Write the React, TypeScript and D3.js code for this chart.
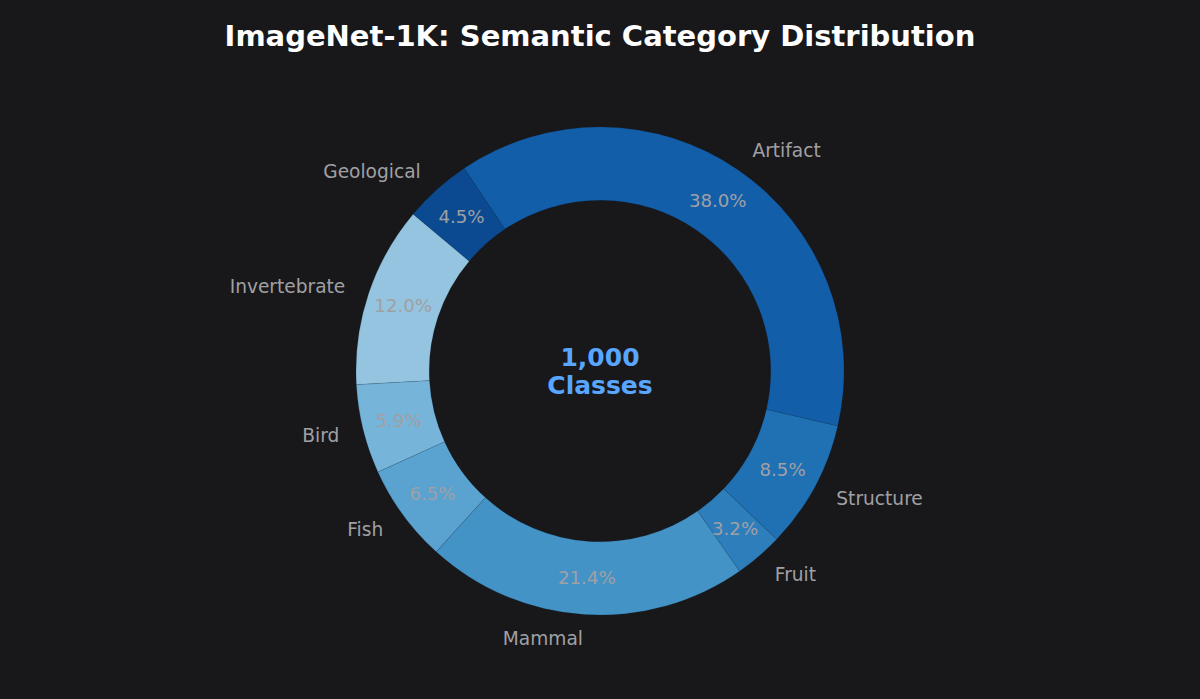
import React from "react";
import * as d3 from "d3";

const categories = ["Geological", "Artifact", "Structure", "Fruit", "Mammal", "Fish", "Bird", "Invertebrate"];
const shares = [4.5, 38.0, 8.5, 3.2, 21.4, 6.5, 5.9, 12.0];
const colors = ["#0b4a90", "#135ea9", "#2070b4", "#2f7ebc", "#4493c7", "#5aa2cf", "#76b4d9", "#94c4df"];
const title = "ImageNet-1K: Semantic Category Distribution";
const centerLines = ["1,000", "Classes"];

const W = 1200;
const H = 699;
const CX = 600;
const CY = 371;
const R = 244;
const START_DEG = -50;

export default function App() {
  const data = categories.map((c, i) => ({ name: c, value: shares[i], color: colors[i] }));
  const start = (START_DEG * Math.PI) / 180;
  const pie = d3
    .pie<any>()
    .sort(null)
    .value((d: any) => d.value)
    .startAngle(start)
    .endAngle(start + 2 * Math.PI);
  const arcs = pie(data);
  const arcGen = d3.arc<any>().innerRadius(R * 0.7).outerRadius(R);

  return (
    <svg width={W} height={H} style={{ position: "absolute", left: 0, top: 0, background: "#18181a" }}>
      <rect x={0} y={0} width={W} height={H} fill="#18181a" />
      <text x={W / 2} y={36} textAnchor="middle" dominantBaseline="central" fill="#ffffff" fontFamily="DejaVu Sans" fontWeight="bold" fontSize={29}>
        {title}
      </text>
      <g transform={`translate(${CX},${CY})`}>
        {arcs.map((a: any, i: number) => (
          <path key={i} d={arcGen(a) as string} fill={a.data.color} stroke="#0a2a50" strokeOpacity={0.2} strokeWidth={0.7} />
        ))}
        {arcs.map((a: any, i: number) => {
          const mid = (a.startAngle + a.endAngle) / 2;
          const lx = Math.sin(mid) * R * 1.1;
          const ly = -Math.cos(mid) * R * 1.1;
          const px = Math.sin(mid) * R * 0.85;
          const py = -Math.cos(mid) * R * 0.85;
          return (
            <g key={"t" + i}>
              <text x={lx} y={ly} textAnchor={lx > 0 ? "start" : "end"} dominantBaseline="central" fill="#a0a0a4" fontFamily="DejaVu Sans" fontSize={18.6}>
                {a.data.name}
              </text>
              <text x={px} y={py} textAnchor="middle" dominantBaseline="central" fill="#a0a0a4" fontFamily="DejaVu Sans" fontSize={18.2}>
                {a.data.value.toFixed(1) + "%"}
              </text>
            </g>
          );
        })}
        {centerLines.map((t, i) => (
          <text key={"c" + i} x={0} y={-14 + i * 28} textAnchor="middle" dominantBaseline="central" fill="#58a6ff" fontFamily="DejaVu Sans" fontWeight="bold" fontSize={25}>
            {t}
          </text>
        ))}
      </g>
    </svg>
  );
}
